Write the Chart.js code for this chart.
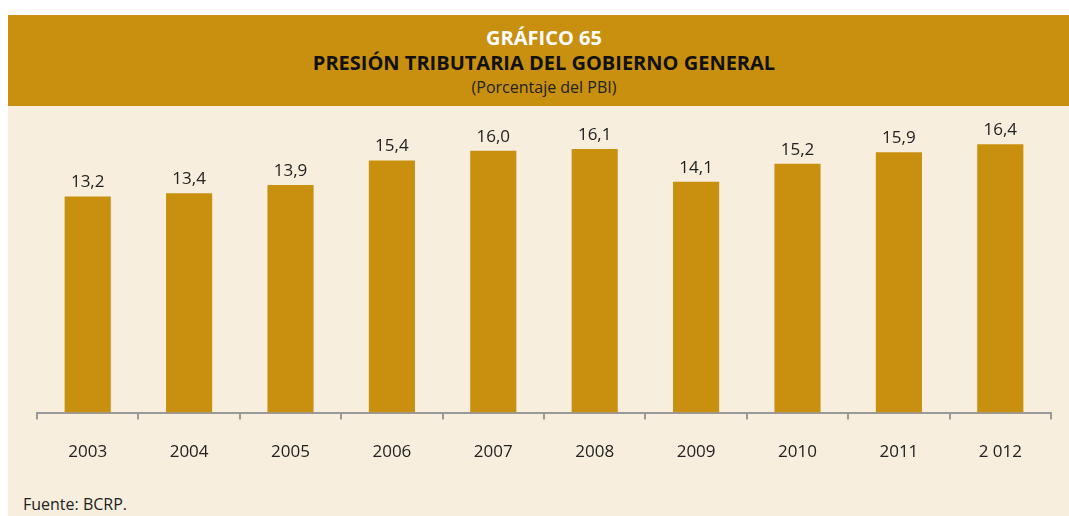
<!DOCTYPE html>
<html>
<head>
<meta charset="utf-8">
<script src="https://cdn.jsdelivr.net/npm/chart.js@4.4.1/dist/chart.umd.min.js"></script>
<style>
  html, body { margin: 0; padding: 0; background: #fff; width: 1069px; height: 516px; overflow: hidden; font-family: 'Open Sans', sans-serif; }
  #panel { position: absolute; left: 8px; top: 15px; right: 0; bottom: 0; background: #f7eedd; }
  #header { position: absolute; left: 8px; top: 15px; right: 0; height: 91px; background: #c8900e; }
  .hline { position: absolute; left: 0; width: 1088px; text-align: center; white-space: nowrap; }
  #t1 { top: 26px; line-height: 24px; font-size: 20px; font-weight: 700; color: #fff; }
  #t2 { top: 51px; line-height: 24px; font-size: 20px; font-weight: 700; color: #111; }
  #t3 { top: 77px; line-height: 20px; font-size: 16px; color: #222; }
  #source { position: absolute; left: 23px; top: 494px; line-height: 20px; font-size: 16px; color: #222; }
  #myChart { position: absolute; left: 0; top: 0; }
</style>
</head>
<body>
<div id="panel"></div>
<div id="header"></div>
<div class="hline" id="t1">GRÁFICO 65</div>
<div class="hline" id="t2">PRESIÓN TRIBUTARIA DEL GOBIERNO GENERAL</div>
<div class="hline" id="t3">(Porcentaje del PBI)</div>
<div id="source">Fuente: BCRP.</div>
<canvas id="myChart" width="1069" height="516"></canvas>
<script>
// años (tal como aparecen en el gráfico)
const years = ['2003', '2004', '2005', '2006', '2007', '2008', '2009', '2010', '2011', '2 012'];
// presión tributaria, % del PBI
const presion = [13.2, 13.4, 13.9, 15.4, 16.0, 16.1, 14.1, 15.2, 15.9, 16.4];

const gold = '#c8900e';
const axisGray = '#9a9a9a';

// etiquetas de valor encima de cada barra
const valueLabels = {
    id: 'valueLabels',
    afterDatasetsDraw(chart) {
        const ctx = chart.ctx;
        const meta = chart.getDatasetMeta(0);
        ctx.save();
        ctx.font = '17px "Open Sans"';
        ctx.fillStyle = '#222';
        ctx.textAlign = 'center';
        ctx.textBaseline = 'middle';
        meta.data.forEach(function (bar, i) {
            const txt = presion[i].toFixed(1).replace('.', ',');
            ctx.fillText(txt, bar.x, bar.y - 14);
        });
        ctx.restore();
    }
};

const ctx = document.getElementById('myChart').getContext('2d');
const myChart = new Chart(ctx, {
    type: 'bar',
    data: {
        labels: years,
        datasets: [{
            label: 'Presión tributaria',
            data: presion,
            backgroundColor: gold,
            borderWidth: 0,
            categoryPercentage: 1,
            barPercentage: 0.455
        }]
    },
    options: {
        responsive: false,
        animation: false,
        layout: {
            padding: { left: 37, right: 18, top: 118, bottom: 32 }
        },
        plugins: {
            legend: { display: false },
            tooltip: { enabled: false }
        },
        scales: {
            x: {
                grid: {
                    drawOnChartArea: false,
                    drawTicks: true,
                    tickLength: 7,
                    color: axisGray,
                    lineWidth: 2
                },
                border: { display: true, color: axisGray, width: 2 },
                ticks: {
                    color: '#222',
                    padding: 22,
                    font: { family: 'Open Sans', size: 17 }
                }
            },
            y: {
                display: false,
                min: 0,
                max: 18
            }
        }
    },
    plugins: [valueLabels]
});
</script>
</body>
</html>
